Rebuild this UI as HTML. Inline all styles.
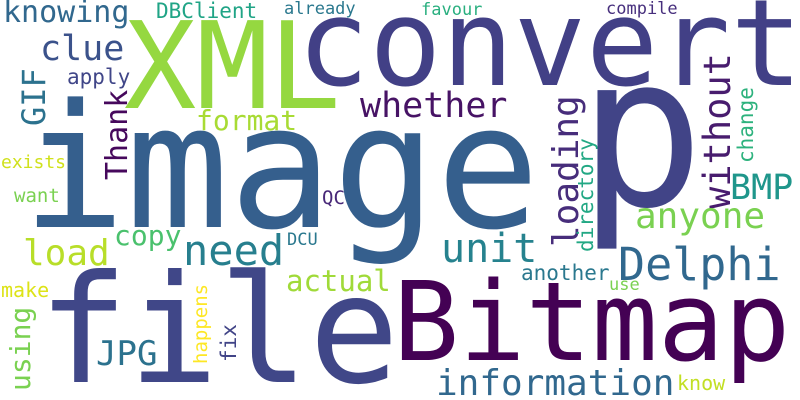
<!DOCTYPE html>
<html><head><meta charset="utf-8"><style>
html,body{margin:0;padding:0;background:#fff;}
svg{display:block;}
text{font-family:"DejaVu Sans Mono","Liberation Mono",monospace;}
</style></head><body>
<svg width="800" height="400" viewBox="0 0 800 400" xmlns="http://www.w3.org/2000/svg">
<rect width="800" height="400" fill="#fff"/>
<text x="22" y="227" font-size="172" fill="#355f8d">image</text>
<text x="38" y="382" font-size="150" fill="#404788">file</text>
<text x="393" y="360" font-size="110" fill="#440154">Bitmap</text>
<text x="297" y="85" font-size="120" fill="#424086">convert</text>
<text x="578" y="205" font-size="210" fill="#414487">p</text>
<text x="124" y="108" font-size="120" fill="#95d840">XML</text>
<text x="3" y="22" font-size="30" fill="#31688e">knowing</text>
<text x="156" y="18" font-size="21" fill="#20a486">DBClient</text>
<text x="284" y="14" font-size="17" fill="#2a788e">already</text>
<text x="421" y="15" font-size="17" fill="#29af7f">favour</text>
<text x="606" y="14" font-size="17" fill="#472f7d">compile</text>
<text x="40" y="60" font-size="35" fill="#3b528b">clue</text>
<text transform="translate(45,126) rotate(-90)" font-size="32" fill="#2c728e">GIF</text>
<text x="67" y="84" font-size="21" fill="#404688">apply</text>
<text transform="translate(127,180) rotate(-90)" font-size="30" fill="#46085c">Thank</text>
<text x="196" y="130" font-size="28" fill="#a8db34">format</text>
<text x="360" y="117" font-size="35" fill="#471365">whether</text>
<text x="1" y="168" font-size="18" fill="#d0e11c">exists</text>
<text x="14" y="202" font-size="19" fill="#7ad151">want</text>
<text x="322" y="204" font-size="19" fill="#482878">QC</text>
<text x="23" y="265" font-size="36" fill="#b8de29">load</text>
<text x="114" y="245" font-size="28" fill="#4ac16d">copy</text>
<text x="183" y="265" font-size="42" fill="#277f8e">need</text>
<text x="287" y="245" font-size="17" fill="#2a788e">DCU</text>
<text x="286" y="291" font-size="29" fill="#a0da39">actual</text>
<text x="1" y="297" font-size="20" fill="#dde318">make</text>
<text transform="translate(30,391) rotate(-90)" font-size="28" fill="#7ad151">using</text>
<text x="96" y="365" font-size="34" fill="#2c728e">JPG</text>
<text transform="translate(207,364) rotate(-90)" font-size="19" fill="#fde725">happens</text>
<text transform="translate(236,362) rotate(-90)" font-size="21" fill="#414487">fix</text>
<text x="441" y="262" font-size="40" fill="#26828e">unit</text>
<text transform="translate(578,247) rotate(-90)" font-size="36" fill="#472d7b">loading</text>
<text transform="translate(593,252) rotate(-90)" font-size="21" fill="#22a884">directory</text>
<text transform="translate(730,209) rotate(-90)" font-size="37" fill="#481c6e">without</text>
<text transform="translate(753,163) rotate(-90)" font-size="21" fill="#2db27d">change</text>
<text x="730" y="199" font-size="35" fill="#1f968b">BMP</text>
<text x="635" y="228" font-size="36" fill="#7ad151">anyone</text>
<text x="618" y="280" font-size="45" fill="#31688e">Delphi</text>
<text x="521" y="280" font-size="21" fill="#2a788e">another</text>
<text x="609" y="290" font-size="17" fill="#7ad151">use</text>
<text x="436" y="395" font-size="36" fill="#31688e">information</text>
<text x="677" y="390" font-size="20" fill="#c2df23">know</text>
</svg>
</body></html>
